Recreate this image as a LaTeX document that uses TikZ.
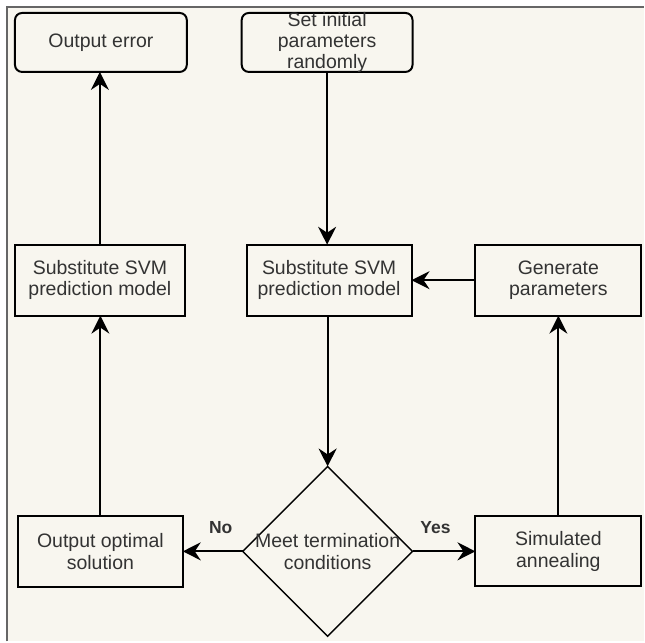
\documentclass[tikz,border=0pt]{standalone}
\usepackage{fontspec}
\setmainfont{Liberation Sans}
\usetikzlibrary{arrows.meta,shapes.geometric}
\definecolor{paper}{HTML}{F8F6EF}
\definecolor{ink}{HTML}{333333}
\definecolor{framegray}{HTML}{666666}

\begin{document}
\begin{tikzpicture}[x=1pt,y=-1pt,
  txt/.style={text=ink, align=center, inner sep=0pt,
    font=\fontsize{19.5}{21.5}\selectfont},
  sqbox/.style={txt, draw=black, line width=2pt, fill=paper, outer sep=0pt},
  rbox/.style={sqbox, rounded corners=7pt},
  decision/.style={diamond, draw=black, line width=1.5pt, fill=paper,
    inner sep=0pt, outer sep=0pt, minimum width=170, minimum height=170},
  lbl/.style={text=ink, inner sep=0pt, font=\fontsize{17.5}{20}\selectfont\bfseries},
  arr/.style={draw=black, line width=2pt,
    -{Stealth[length=18pt,width=18pt,inset=6pt]}}]

% canvas and frame
\fill[white] (0,0) rectangle (645,642);
\fill[paper] (7,7) rectangle (645,642);
\draw[framegray, line width=1.5pt] (7,642) -- (7,7) -- (645,7);
\useasboundingbox (0,0) rectangle (645,642);

% top row
\node[rbox, minimum width=172, minimum height=59] (err) at (101,42.5) {Output error};
\node[rbox, minimum width=171, minimum height=59] (init) at (327.5,42.5) {};
\node[txt] (initText) at (init.center) {Set initial\\parameters\\randomly};

% middle row
\node[sqbox, minimum width=170, minimum height=71] (svmL) at (100,280.5) {Substitute SVM\\prediction model};
\node[sqbox, minimum width=165, minimum height=71] (svmC) at (329.5,280.5) {Substitute SVM\\prediction model};
\node[sqbox, minimum width=166, minimum height=71] (gen) at (559,280.5) {Generate\\parameters};

% bottom row
\node[sqbox, minimum width=165, minimum height=71] (opt) at (100.5,552) {Output optimal\\solution};
\node[decision] (cond) at (328,552) {};
\node[txt] (condText) at (cond.center) {Meet termination\\conditions};
\node[sqbox, minimum width=166, minimum height=70] (sim) at (559,552) {Simulated\\annealing};

% branch labels
\node[lbl] (no) at (221,528) {No};
\node[lbl] (yes) at (436,528) {Yes};

% connectors
\draw[arr] (init.south) -- (init.south |- svmC.north);
\draw[arr] (cond.north |- svmC.south) -- (cond.north);
\draw[arr] (cond.west) -- (opt.east);
\draw[arr] (cond.east) -- (sim.west);
\draw[arr] (sim.north) -- (gen.south);
\draw[arr] (gen.west) -- (gen.west -| svmC.east);
\draw[arr] (opt.north) -- (opt.north |- svmL.south);
\draw[arr] (svmL.north) -- (svmL.north |- err.south);
\end{tikzpicture}
\end{document}
